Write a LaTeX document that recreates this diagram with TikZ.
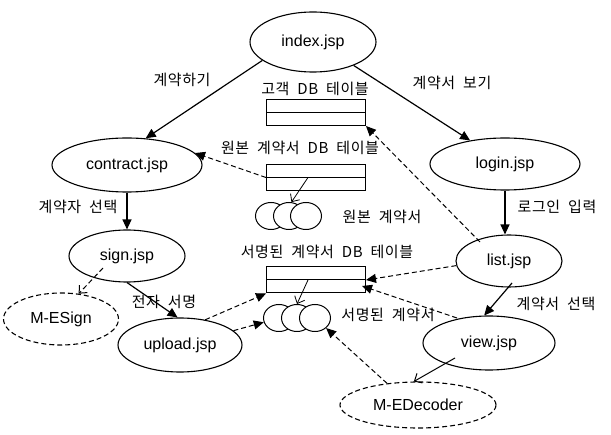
\documentclass[tikz,border=0pt]{standalone}
\usepackage{fontspec}
\setmainfont{Liberation Sans}
\newfontfamily\kr[WordSpace=2, LetterSpace=4]{Noto Sans CJK KR}
\usetikzlibrary{shapes.geometric, arrows.meta}

\tikzset{
  page/.style={draw, ellipse, line width=1.1pt, inner sep=0pt, font=\fontsize{16}{18}\selectfont},
  lib/.style={page, dash pattern=on 5pt off 3pt},
  dbtable/.style={draw, line width=1pt, minimum width=99pt, minimum height=26pt, inner sep=0pt},
  doc/.style={draw, ellipse, fill=white, line width=1pt, minimum width=31pt, minimum height=27pt, inner sep=0pt},
  lbl/.style={font=\kr\fontsize{15}{17}\selectfont, inner sep=0pt},
  flow/.style={line width=1.2pt, -{Triangle[length=10pt,width=9pt]}},
  ref/.style={line width=1pt, dash pattern=on 5pt off 3pt, -{Triangle[length=10pt,width=9pt]}},
  call/.style={line width=1pt, -{Straight Barb[length=6pt,width=11pt]}},
}

\begin{document}
\begin{tikzpicture}[x=1pt, y=-1pt]
\useasboundingbox (0,0) rectangle (611,435);
%Pages
\node[page, minimum width=126pt, minimum height=60pt] (index) at (313,42) {index.jsp};
\node[page, minimum width=150pt, minimum height=54pt] (contract) at (127,165) {contract.jsp};
\node[page, minimum width=150pt, minimum height=52pt] (login) at (505,164) {login.jsp};
\node[page, minimum width=116pt, minimum height=52pt] (sign) at (127,256) {sign.jsp};
\node[page, minimum width=106pt, minimum height=52pt] (list) at (509,261) {list.jsp};
\node[page, minimum width=124pt, minimum height=54pt] (upload) at (180,345) {upload.jsp};
\node[page, minimum width=132pt, minimum height=54pt] (view) at (489,343) {view.jsp};
\node[lib, minimum width=115pt, minimum height=52pt] (mesign) at (61,319) {M-ESign};
\node[lib, minimum width=156pt, minimum height=46pt] (medec) at (418,405) {M-EDecoder};
%Tables
\node[dbtable] (ctbl) at (316,112.5) {};
\draw[line width=1pt] (ctbl.west) -- (ctbl.east);
\node[lbl] (ctbl-t) at (315,89) {고객 DB 테이블};
\node[dbtable] (otbl) at (316,177.5) {};
\draw[line width=1pt] (otbl.west) -- (otbl.east);
\node[lbl] (otbl-t) at (300,148) {원본 계약서 DB 테이블};
\node[dbtable] (stbl) at (316,280) {};
\draw[line width=1pt] (stbl.west) -- (stbl.east);
\node[lbl] (stbl-t) at (327,252) {서명된 계약서 DB 테이블};
%Documents
\foreach \n/\x in {1/271, 2/289, 3/306}
  \node[doc] (oc\n) at (\x,216) {};
\node[lbl] (oc-t) at (382,217) {원본 계약서};
\foreach \n/\x in {1/279, 2/297, 3/315}
  \node[doc] (sc\n) at (\x,318) {};
\node[lbl] (sc-t) at (388,315) {서명된 계약서};
%Flow
\draw[flow] (index.200) -- (contract.55);
\node[lbl] (l1) at (182,80) {계약하기};
\draw[flow] (index.330) -- (login.146);
\node[lbl] (l2) at (452,83) {계약서 보기};
\draw[flow] (contract.south) -- (sign.north);
\node[lbl] (l3) at (78,207) {계약자 선택};
\draw[flow] (login.south) -- (login.south |- list.north);
\node[lbl] (l4) at (557,207) {로그인 입력};
\draw[flow] (sign.south) -- (upload.95);
\node[lbl] (l5) at (164,302) {전자 서명};
\draw[flow] ([shift={(3,22)}]list.center) -- (view.100);
\node[lbl] (l6) at (556,304) {계약서 선택};
%Calls
\draw[call, dash pattern=on 5pt off 3pt] ([shift={(-24,12)}]sign.center) -- (mesign.55);
\draw[call] ([shift={(-34,15)}]view.center) -- (medec.100);
\draw[call, line width=0.8pt] ([shift={(-8,0)}]otbl.center) -- (oc2.80);
\draw[call, line width=0.8pt] ([shift={(-8,0)}]stbl.center) -- (sc2.north);
%References
\draw[ref] (otbl.west) -- (contract.10);
\draw[ref] ([shift={(-29,-19)}]list.center) -- (ctbl.south east);
\draw[ref] (list.185) -- (stbl.east);
\draw[ref] ([shift={(-32,-25)}]view.center) -- ([shift={(-4,6)}]stbl.east);
\draw[ref] (upload.45) -- (stbl.south west);
\draw[ref] (upload.15) -- (sc1);
\draw[ref] (medec.145) -- (sc3);
\end{tikzpicture}
\end{document}
